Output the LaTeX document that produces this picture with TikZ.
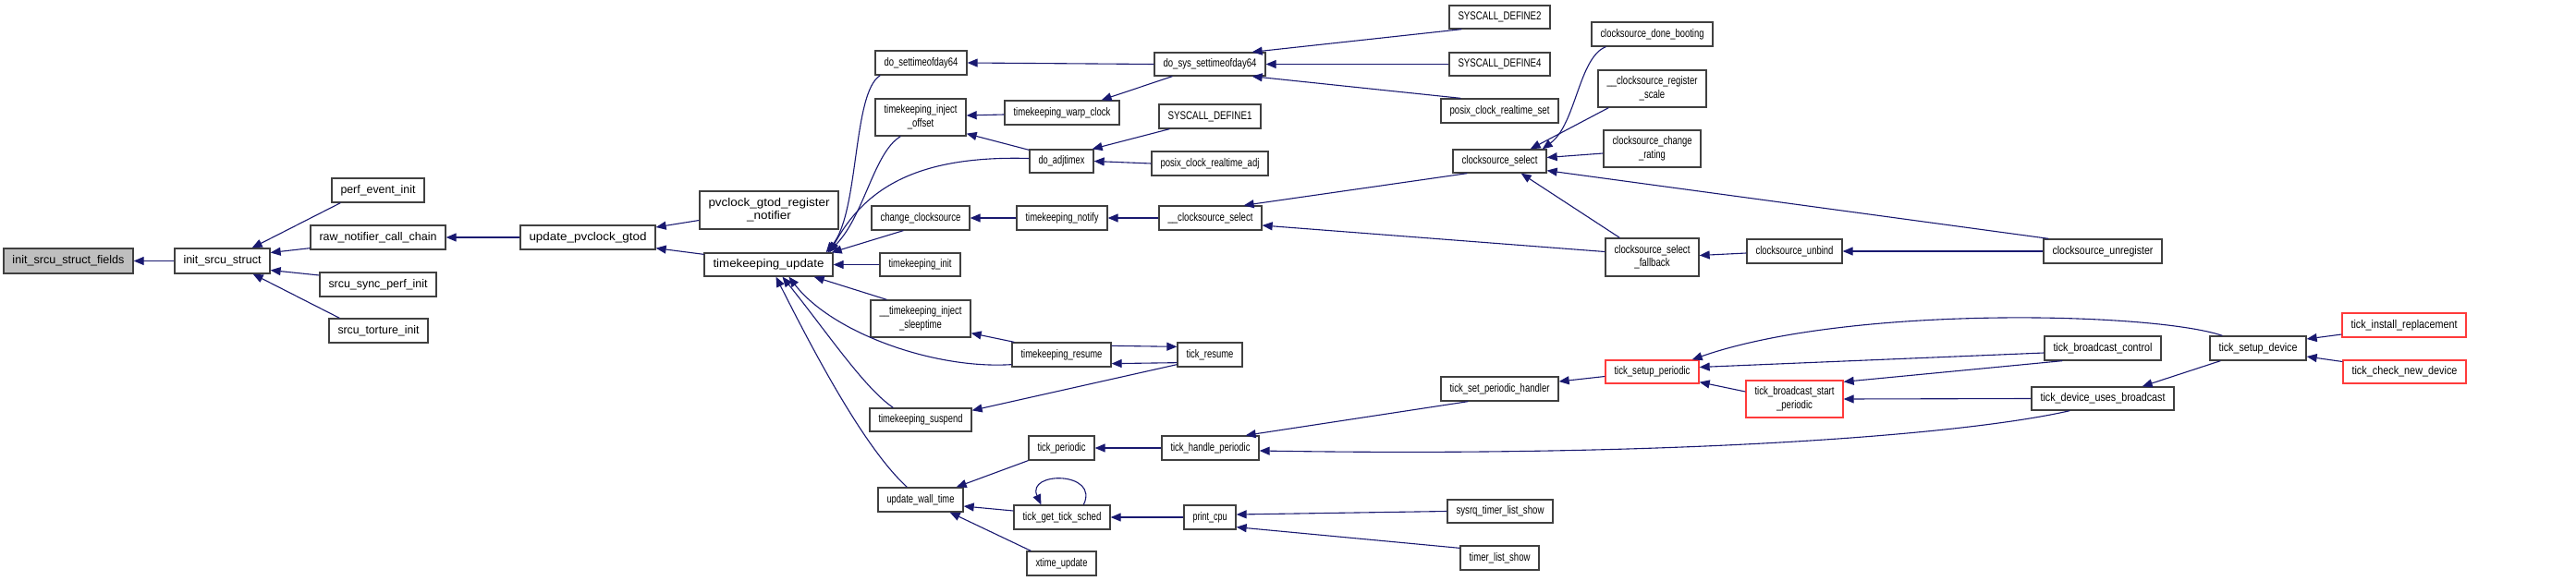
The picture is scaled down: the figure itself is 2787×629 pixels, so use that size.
\documentclass[tikz,border=0pt]{standalone}
\usepackage{fontspec}
\setmainfont{Liberation Sans}
\usepackage{graphicx}
\usetikzlibrary{arrows.meta,calc}
\definecolor{edgec}{HTML}{191970}
\definecolor{boxc}{HTML}{404040}
\definecolor{redc}{HTML}{FF3B3B}
\definecolor{rootc}{HTML}{BFBFBF}
\newcommand{\bx}[7][]{\node[box,#1,minimum width=#5pt,minimum height=#6pt] (#2) at (#3,#4) {\resizebox{\dimexpr#5pt-19pt\relax}{\height}{#7}};}
\newcommand{\twol}[2]{\begin{tabular}{@{}c@{}}#1\\#2\end{tabular}}
\tikzset{
  box/.style={draw=boxc, line width=1.3pt, fill=white, inner sep=0pt, rectangle, font=\fontsize{12.5}{14.5}\selectfont},
  rootbox/.style={fill=rootc},
  redbox/.style={draw=redc},
  edge/.style={draw=edgec, line width=1.1pt, -{Triangle[length=11pt,width=9pt]}}
}
\begin{document}
\begin{tikzpicture}[x=1pt,y=-1pt]
\useasboundingbox (0,0) rectangle (2787,629);
% nodes
\bx[rootbox]{isf}{74}{282.5}{140}{27}{init\_srcu\_struct\_fields}
\bx{iss}{240.5}{282.5}{103}{27}{init\_srcu\_struct}
\bx{pei}{409}{206}{100}{26}{perf\_event\_init}
\bx{rncc}{409}{257}{146}{26}{raw\_notifier\_call\_chain}
\bx{sspi}{409}{308}{126}{26}{srcu\_sync\_perf\_init}
\bx{sti}{409.5}{358}{107}{26}{srcu\_torture\_init}
\bx{upg}{636}{257}{146}{26}{update\_pvclock\_gtod}
\bx{pgrn}{832}{227.5}{150}{41}{\twol{pvclock\_gtod\_register}{\_notifier}}
\bx{tku}{831.5}{286.5}{139}{25}{timekeeping\_update}
\bx{dst}{996.5}{68}{99}{26}{do\_settimeofday64}
\bx{tkio}{996}{127}{98}{40}{\twol{timekeeping\_inject}{\_offset}}
\bx{cc}{996}{236}{106}{26}{change\_clocksource}
\bx{tki}{995.5}{286.5}{87}{25}{timekeeping\_init}
\bx{tkis}{996}{345}{108}{40}{\twol{\_\_timekeeping\_inject}{\_sleeptime}}
\bx{tkr}{1148.5}{384}{107}{26}{timekeeping\_resume}
\bx{tks}{996}{454.5}{110}{25}{timekeeping\_suspend}
\bx{uwt}{996}{541}{92}{26}{update\_wall\_time}
\bx{dsst}{1309}{69.5}{120}{25}{do\_sys\_settimeofday64}
\bx{tkwc}{1149}{122}{124}{26}{timekeeping\_warp\_clock}
\bx{sda}{1309}{126}{110}{26}{SYSCALL\_DEFINE1}
\bx{dat}{1148.5}{174.5}{69}{25}{do\_adjtimex}
\bx{pcra}{1309}{177}{126}{26}{posix\_clock\_realtime\_adj}
\bx{tkn}{1149}{236}{98}{26}{timekeeping\_notify}
\bx{ucs}{1309.5}{236}{111}{26}{\_\_clocksource\_select}
\bx{trs}{1309}{384}{70}{26}{tick\_resume}
\bx{tp}{1148.5}{485}{71}{26}{tick\_periodic}
\bx{thp}{1309.5}{485}{105}{26}{tick\_handle\_periodic}
\bx{tgts}{1149}{560}{104}{26}{tick\_get\_tick\_sched}
\bx{pc}{1309}{560}{56}{26}{print\_cpu}
\bx{xu}{1148.5}{610}{75}{26}{xtime\_update}
\bx{sdb}{1622.5}{18.5}{109}{25}{SYSCALL\_DEFINE2}
\bx{sdd}{1622.5}{69.5}{109}{25}{SYSCALL\_DEFINE4}
\bx{pcrs}{1622.5}{120}{127}{26}{posix\_clock\_realtime\_set}
\bx{cs}{1622.5}{174.5}{101}{25}{clocksource\_select}
\bx{tsph}{1622.5}{421}{127}{26}{tick\_set\_periodic\_handler}
\bx{stls}{1623}{553.5}{114}{25}{sysrq\_timer\_list\_show}
\bx{tls}{1622.5}{604}{85}{26}{timer\_list\_show}
\bx{cdb}{1787.5}{37}{131}{26}{clocksource\_done\_booting}
\bx{crs}{1787.5}{96}{117}{40}{\twol{\_\_clocksource\_register}{\_scale}}
\bx{ccr}{1787.5}{161}{105}{40}{\twol{clocksource\_change}{\_rating}}
\bx{csf}{1787.5}{278.5}{101}{41}{\twol{clocksource\_select}{\_fallback}}
\bx[redbox]{tsp}{1787.5}{402.5}{101}{25}{tick\_setup\_periodic}
\bx{cub}{1941.5}{272}{103}{26}{clocksource\_unbind}
\bx[redbox]{tbsp}{1941.5}{432}{105}{40}{\twol{tick\_broadcast\_start}{\_periodic}}
\bx{cur}{2275}{272}{128}{26}{clocksource\_unregister}
\bx{tbc}{2275}{377}{126}{26}{tick\_broadcast\_control}
\bx{tdub}{2275}{431.5}{154}{25}{tick\_device\_uses\_broadcast}
\bx{tsd}{2443}{377}{104}{26}{tick\_setup\_device}
\bx[redbox]{tir}{2601}{352}{134}{26}{tick\_install\_replacement}
\bx[redbox]{tcnd}{2601.5}{402.5}{133}{25}{tick\_check\_new\_device}
% edges, left part
\draw[edge] (iss) -- (isf);
\draw[edge] ($(pei.south west)+(10,0)$) -- ($(iss.north east)+(-20,0)$);
\draw[edge] ($(rncc.south west)+(0,-2)$) -- ($(iss.east)+(0,-9)$);
\draw[edge] ($(sspi.west)+(0,-10)$) -- ($(iss.east)+(0,10)$);
\draw[edge] ($(sti.north west)+(12,0)$) -- ($(iss.south east)+(-19,0)$);
\draw[edge] (upg) -- (rncc);
\draw[edge] ($(pgrn.west)+(0,11)$) -- ($(upg.east)+(0,-11)$);
\draw[edge] ($(tku.north west)+(0,2)$) -- ($(upg.south east)+(0,-2)$);
% into timekeeping_update
\draw[edge] ($(dst.south west)+(6,0)$) .. controls (922,100) and (930,230) .. ($(tku.north east)+(-8,0)$);
\draw[edge] ($(tkio.south west)+(28,0)$) .. controls (945,165) and (935,235) .. ($(tku.north east)+(-6,0)$);
\draw[edge] ($(dat.west)+(0,-3)$) .. controls (990,168) and (935,205) .. ($(tku.north east)+(-4,0)$);
\draw[edge] ($(cc.south west)+(35,0)$) -- ($(tku.north east)+(-2,0)$);
\draw[edge] (tki) -- (tku);
\draw[edge] ($(tkis.north west)+(18,0)$) -- ($(tku.south east)+(-21,0)$);
\draw[edge] ($(tkr.south west)+(0,-3)$) .. controls (1010,400) and (900,360) .. ($(tku.south)+(22,0)$);
\draw[edge] ($(tks.north west)+(26,0)$) .. controls (935,420) and (895,360) .. ($(tku.south)+(15,0)$);
\draw[edge] ($(uwt.north west)+(32,0)$) .. controls (935,485) and (880,380) .. ($(tku.south)+(8,0)$);
% settimeofday / adjtimex
\draw[edge] (dsst.west) -- (dst.east);
\draw[edge] ($(dsst.south west)+(20,0)$) -- ($(tkwc.north east)+(-20,0)$);
\draw[edge] ($(tkwc.west)+(0,2)$) -- ($(tkio.east)+(0,-2)$);
\draw[edge] ($(dat.north west)+(0,1)$) -- ($(tkio.south east)+(0,-3)$);
\draw[edge] ($(sda.south west)+(12,0)$) -- ($(dat.north east)+(-2,0)$);
\draw[edge] (pcra.west) -- (dat.east);
\draw[edge] ($(sdb.south west)+(14,0)$) -- ($(dsst.north east)+(-15,0)$);
\draw[edge] (sdd) -- (dsst);
\draw[edge] ($(pcrs.north west)+(22,0)$) -- ($(dsst.south east)+(-15,0)$);
% clocksource
\draw[edge] (tkn) -- (cc);
\draw[edge] (ucs) -- (tkn);
\draw[edge] ($(cs.south west)+(16,0)$) -- ($(ucs.north east)+(-20,0)$);
\draw[edge] ($(csf.west)+(0,-6)$) -- ($(ucs.east)+(0,8)$);
\draw[edge] ($(cdb.south west)+(16,0)$) .. controls (1708,62) and (1705,135) .. ($(cs.north east)+(-5,0)$);
\draw[edge] ($(crs.south west)+(12,0)$) -- ($(cs.north east)+(-18,0)$);
\draw[edge] ($(ccr.west)+(0,5)$) -- ($(cs.east)+(0,-4)$);
\draw[edge] ($(cur.north west)+(6,0)$) -- ($(cs.south east)+(0,-3)$);
\draw[edge] ($(csf.north west)+(16,0)$) -- ($(cs.south east)+(-28,0)$);
\draw[edge] ($(cub.west)+(0,2)$) -- ($(csf.east)+(0,-2)$);
\draw[edge] (cur) -- (cub);
% resume / suspend
\draw[edge] ($(tkr.north east)+(0,4)$) -- ($(trs.north west)+(0,5)$);
\draw[edge] ($(trs.south west)+(0,-5)$) -- ($(tkr.south east)+(0,-4)$);
\draw[edge] ($(trs.south west)+(0,-3)$) -- ($(tks.north east)+(0,3)$);
\draw[edge] ($(tkr.north west)+(3,0)$) -- ($(tkis.south east)+(0,-5)$);
% wall time
\draw[edge] (thp) -- (tp);
\draw[edge] (tp.south west) -- ($(uwt.north east)+(-8,0)$);
\draw[edge] ($(tgts.west)+(0,-7)$) -- ($(uwt.east)+(0,7)$);
\draw[edge] ($(xu.north west)+(5,0)$) -- ($(uwt.south east)+(-15,0)$);
\draw[edge] ($(tgts.north west)+(76,0)$) .. controls (1190,510) and (1110,510) .. ($(tgts.north west)+(30,0)$);
\draw[edge] (pc) -- (tgts);
\draw[edge] (stls.west) -- ($(pc.east)+(0,-3)$);
\draw[edge] ($(tls.north west)+(0,3)$) -- ($(pc.south east)+(0,-3)$);
% tick setup
\draw[edge] ($(tsph.south west)+(30,0)$) -- ($(thp.north east)+(-15,0)$);
\draw[edge] ($(tsp.west)+(0,5)$) -- ($(tsph.east)+(0,-8)$);
\draw[edge] ($(tsd.north west)+(14,0)$) .. controls (2330,338) and (2000,330) .. ($(tsp.north east)+(-8,0)$);
\draw[edge] ($(tbc.west)+(0,5)$) -- ($(tsp.east)+(0,-5)$);
\draw[edge] ($(tbsp.west)+(0,-8)$) -- ($(tsp.south east)+(0,-2)$);
\draw[edge] ($(tbc.south west)+(20,0)$) -- ($(tbsp.north east)+(0,2)$);
\draw[edge] (tdub.west) -- (tbsp.east);
\draw[edge] ($(tdub.south west)+(42,0)$) .. controls (2120,472) and (1800,495) .. ($(thp.east)+(0,3)$);
\draw[edge] ($(tsd.south west)+(12,0)$) -- ($(tdub.north east)+(-35,0)$);
\draw[edge] ($(tir.west)+(0,10)$) -- ($(tsd.east)+(0,-10)$);
\draw[edge] ($(tcnd.west)+(0,-11)$) -- ($(tsd.east)+(0,9)$);
\end{tikzpicture}
\end{document}
